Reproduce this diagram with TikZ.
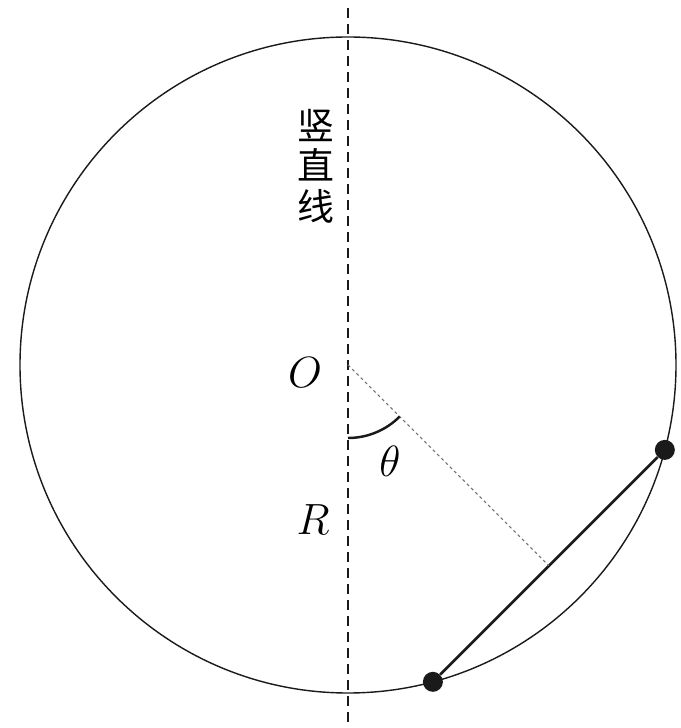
\documentclass[tikz,border=0pt]{standalone}
\usepackage{fontspec}
\newfontfamily\cjk{Noto Sans CJK SC}
\usetikzlibrary{calc}
\definecolor{RingInk}{HTML}{1A1A1A}
\definecolor{RingGrey}{HTML}{707070}
\tikzset{
  ringline/.style={draw=RingInk,line width=0.8pt},
  plumbline/.style={draw=RingInk,line width=1.2pt,dash pattern=on 0.2cm off 0.12cm},
  radline/.style={draw=RingGrey,line width=0.6pt,dash pattern=on 0.06cm off 0.06cm},
  rodline/.style={draw=RingInk,line width=1.5pt},
  bead/.style={circle,fill=RingInk,inner sep=0pt,minimum size=0.4cm},
  mathlabel/.style={font=\fontsize{24}{28}\selectfont}
}
\def\ringR{6.56}

\begin{document}
\begin{tikzpicture}
        \useasboundingbox (-6.96,-7.26) rectangle (6.64,7.3);
        \coordinate (O) at (0,0);
        \coordinate (top) at (0,7.14);
        \coordinate (bottom) at (0,-7.26);
        \draw[ringline] (O) circle[radius=\ringR];
        \draw[plumbline] (top) -- (bottom);
        % rod with two beads on the ring
        \node[bead] (upper) at (-15:\ringR) {};
        \node[bead] (lower) at (-75:\ringR) {};
        \coordinate (mid) at ($(upper.center)!0.5!(lower.center)$);
        \draw[rodline] (upper) -- (lower);
        \draw[radline] (O) -- (mid);
        \draw[line width=1.4pt,draw=RingInk] (O) ++(-90:1.46) arc[start angle=-90,end angle=-45,radius=1.46];
        % labels
        \node[mathlabel] (labO) at (-0.86,-0.16) {$O$};
        \node[mathlabel] (labR) at (-0.7,-3.1) {$R$};
        \node[mathlabel] (labT) at (0.84,-1.92) {$\theta$};
        \node[align=center,font=\cjk\fontsize{21}{23}\selectfont] (vert) at (-0.64,3.98) {竖\\直\\线};
      \end{tikzpicture}
\end{document}
